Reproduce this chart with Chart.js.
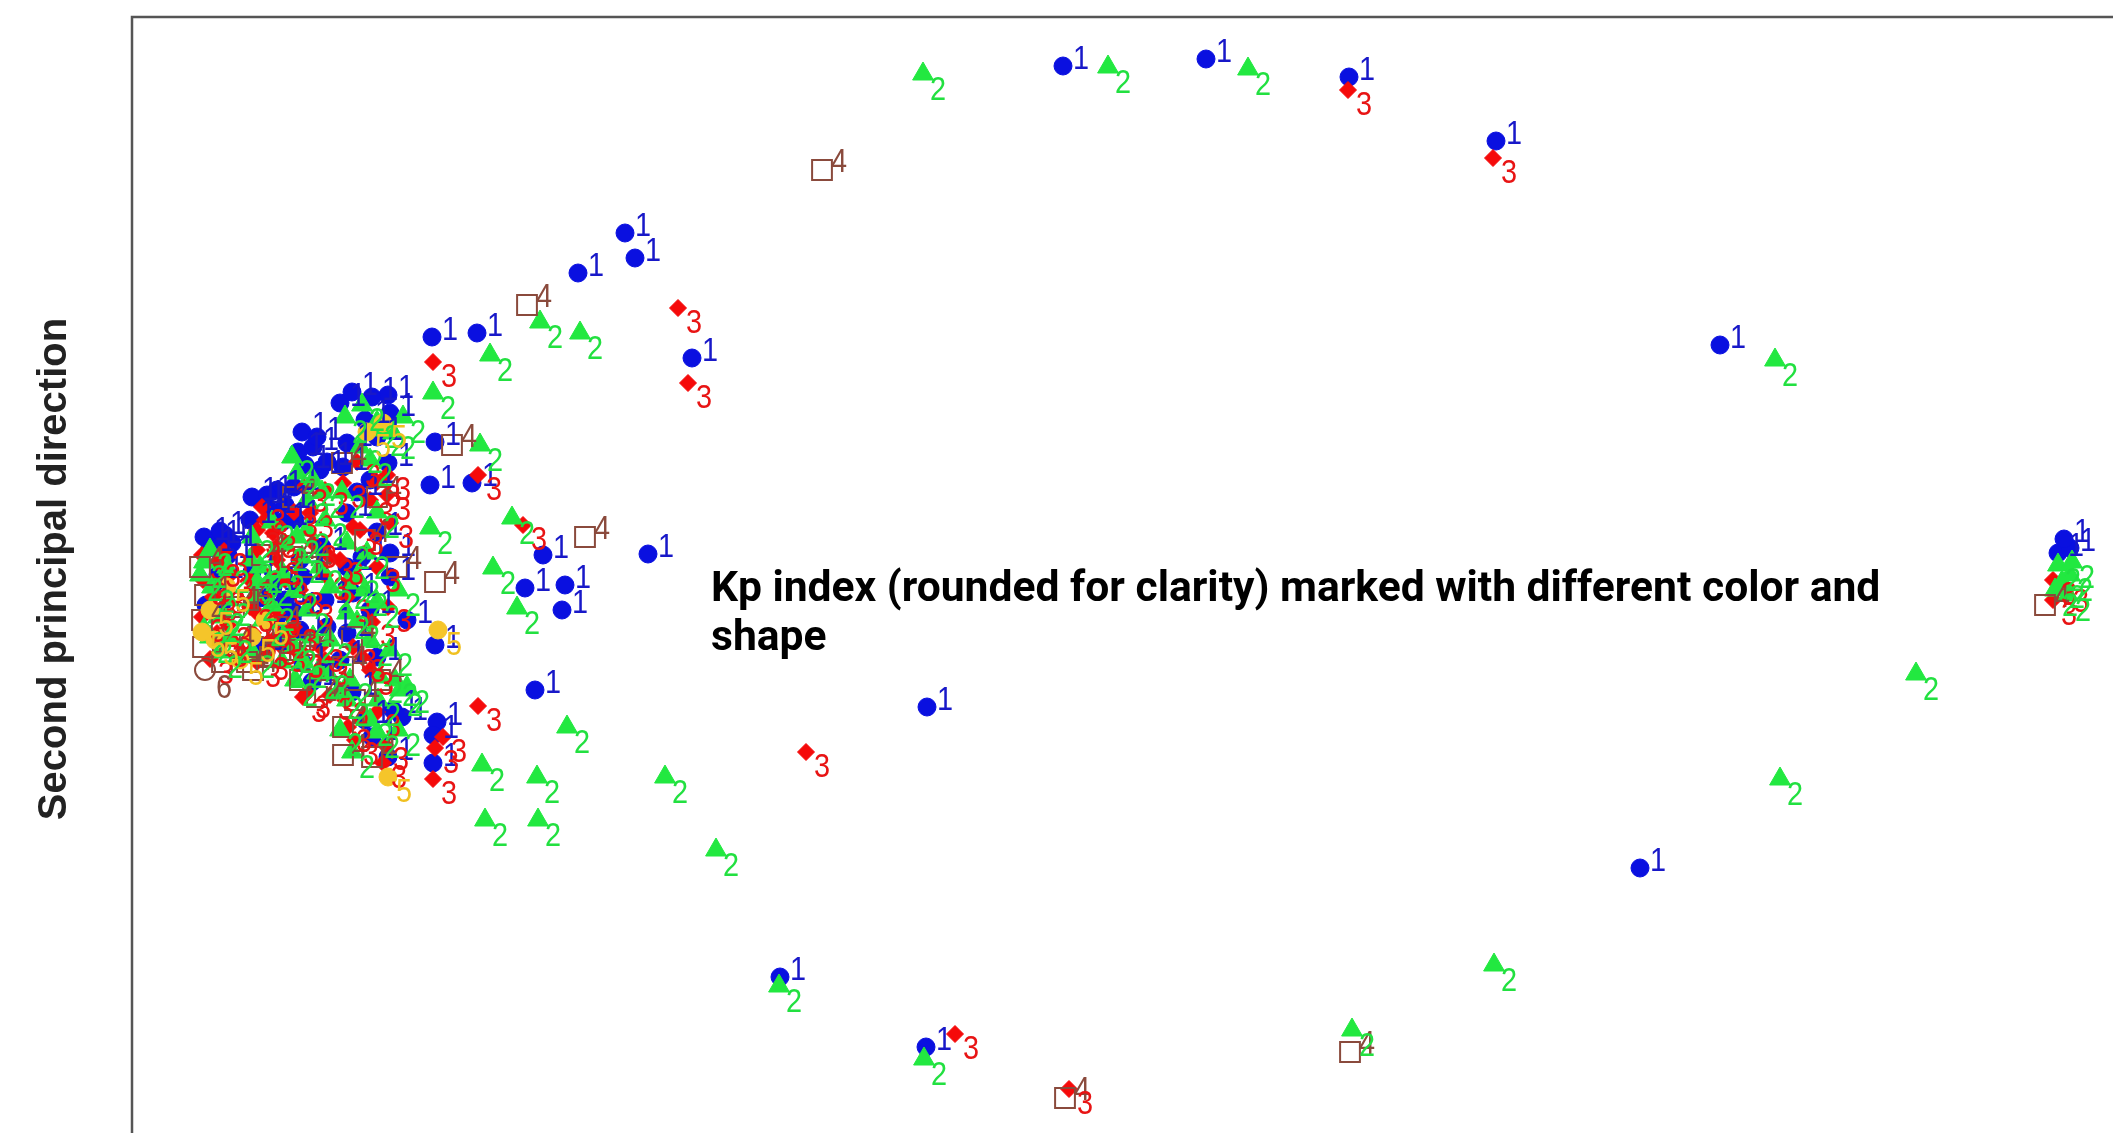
<!DOCTYPE html>
<html>
<head>
<meta charset="utf-8">
<script src="https://cdn.jsdelivr.net/npm/chart.js@4"></script>
<style>
    html, body { margin: 0; padding: 0; background: #fff; overflow: hidden; }
    #wrap { position: absolute; left: 0; top: 0; }
</style>
</head>
<body>
<div id="wrap"><canvas id="chartCanvas" width="2250" height="1250"></canvas></div>
<script>
// points per rounded Kp value: [first principal direction, second principal direction]
var kp1Points = [
    [9.31, 5.51], [10.74, 5.58], [12.17, 5.40], [13.64, 4.76], [15.88, 2.72], [15.08, -2.51], [7.94, -4.30], [6.48, -3.60], [7.95, -0.90], [5.16, 0.63],
    [4.93, 3.84], [5.03, 3.59], [4.46, 3.44], [3.00, 2.80], [3.45, 2.84], [5.60, 2.59], [2.56, 2.22], [2.58, 2.04], [3.03, 1.75], [2.98, 1.32], [3.40, 1.34],
    [4.11, 0.62], [3.93, 0.29], [4.33, 0.32], [4.30, 0.07], [2.75, -0.03], [3.03, -0.28], [4.03, -0.73], [2.58, 0.64], [2.58, 0.40],
    [2.61, -0.93], [2.70, -1.00], [3.05, -1.05], [3.01, -1.18], [2.56, -1.40], [3.01, -1.46],
    [19.26, 0.64], [19.38, 0.69], [19.32, 0.78],
    [0.83, 0.77], [0.93, 0.82], [0.78, 0.69], [0.96, 0.62], [0.72, 0.80], [0.88, 0.86], [1.00, 0.74], [0.86, 0.42], [0.74, 0.12],
    [1.28, 1.17], [1.45, 1.27], [1.38, 1.07], [1.28, 0.19], [1.41, 0.30], [1.53, 1.12], [1.18, 0.97], [1.53, 0.17],
    [1.20, 1.20], [1.35, 1.22], [1.50, 0.95], [1.20, 0.45], [1.45, 0.00], [1.30, -0.30],
    [1.66, 1.65], [1.81, 1.70], [1.73, 1.52], [1.68, 0.57], [1.71, 0.40], [1.68, -0.13], [1.71, -0.46], [1.88, 1.47], [1.93, 0.17], [1.63, 0.97],
    [1.70, 1.85], [1.85, 1.80], [1.95, 1.55], [1.62, 1.30], [1.90, 0.70], [1.62, 0.05], [1.95, -0.10], [1.80, -0.65],
    [2.08, 2.14], [2.15, 1.74], [2.11, 1.50], [2.15, 1.04], [2.15, 0.50], [2.21, 0.24], [2.15, -0.16], [2.08, -0.43], [2.33, 1.97], [2.38, 1.37],
    [2.38, 0.07], [2.33, -1.03], [2.56, 1.54],
    [2.20, 2.25], [2.40, 2.20], [2.45, 1.80], [2.25, 1.25], [2.45, 0.85], [2.30, 0.60], [2.45, -0.40], [2.20, -0.75], [2.40, -1.20]
];
var kp2Points = [
    [7.91, 5.43], [9.76, 5.50], [11.16, 5.48], [16.43, 2.57], [17.84, -0.57], [16.48, -1.62], [13.62, -3.48], [12.20, -4.13], [7.92, -4.42], [6.47, -3.69], [5.84, -2.33],
    [4.08, 2.95], [4.48, 2.84], [3.58, 2.62], [3.01, 2.24], [3.48, 1.72], [2.98, 0.89], [3.80, 0.99], [3.61, 0.49], [3.85, 0.09], [4.35, -1.10],
    [2.66, -1.13], [3.50, -1.48], [4.05, -1.60], [5.33, -1.60], [3.53, -2.03], [4.06, -2.03],
    [19.26, 0.52], [19.38, 0.42], [19.23, 0.27], [19.36, 0.22], [19.30, 0.35], [19.40, 0.55],
    [0.78, 0.67], [0.80, 0.30], [0.78, -0.20], [0.90, 0.07], [0.96, 0.17], [0.68, 0.42],
    [0.72, 0.55], [0.95, 0.50], [0.86, 0.00], [0.72, -0.12], [0.98, -0.20], [0.88, -0.35],
    [1.28, 0.50], [1.38, 0.37], [1.31, -0.03], [1.18, 0.57], [1.53, 0.72], [1.23, 0.22], [1.53, -0.18],
    [1.40, 0.95], [1.20, 0.80], [1.50, 0.45], [1.25, 0.35], [1.40, 0.12], [1.20, -0.35], [1.50, -0.45],
    [1.65, 1.44], [1.81, 1.37], [1.75, 1.17], [1.75, 0.87], [1.65, 0.80], [1.88, 0.50], [1.75, 0.07], [1.81, -0.20], [1.85, -0.56], [1.93, 0.97],
    [1.63, 0.27], [1.98, -0.23], [1.63, -0.63],
    [1.60, 1.60], [1.90, 1.25], [1.70, 0.60], [1.98, 0.30], [1.62, -0.30], [1.95, -0.55], [1.72, -0.45],
    [2.13, 2.00], [2.28, 1.70], [2.15, 0.74], [2.35, 0.64], [2.15, 0.34], [2.15, 0.04], [2.08, -0.76], [2.18, -0.63], [2.38, 1.57], [2.33, 0.27],
    [2.38, -0.23], [2.08, -1.13],
    [2.30, 2.12], [2.45, 1.95], [2.10, 1.25], [2.45, 1.05], [2.25, 0.40], [2.45, 0.15], [2.25, -0.05], [2.45, -1.15], [2.20, -1.35],
    [2.61, 1.84], [2.66, 0.27], [2.63, -0.63], [2.68, -0.73], [2.58, -0.33], [2.46, -0.83], [2.38, -1.03], [2.15, -0.83], [2.48, -0.60], [2.75, -0.70],
    [2.71, 2.00], [2.51, 1.87]
];
var kp3Points = [
    [12.16, 5.27], [13.61, 4.59], [8.23, -4.17], [9.37, -4.72], [6.74, -1.35], [5.46, 3.09], [5.56, 2.34], [3.01, 2.55], [3.46, 1.42], [3.91, 0.92],
    [2.55, 1.42], [2.55, 1.22], [2.58, 0.94], [2.56, 0.10], [3.46, -0.89], [3.11, -1.20], [3.03, -1.31], [2.53, -1.28], [2.51, -1.46], [3.01, -1.62], [2.16, -1.10],
    [19.21, 0.37], [19.21, 0.17], [19.33, 0.30],
    [0.85, 0.55], [0.81, 0.20], [0.85, -0.16], [0.98, 0.42], [0.71, 0.37], [0.96, -0.08],
    [0.92, 0.66], [0.70, 0.62], [0.90, 0.28], [0.70, 0.00], [0.92, -0.25], [0.78, -0.42],
    [1.25, 0.87], [1.41, 0.84], [1.25, 0.67], [1.45, 0.57], [1.25, 0.04], [1.45, 0.04], [1.21, -0.16], [1.41, -0.23], [1.33, 0.97], [1.18, 0.37],
    [1.53, 0.37], [1.33, -0.38],
    [1.30, 1.10], [1.45, 0.70], [1.18, 0.10], [1.35, -0.05], [1.50, -0.30], [1.25, -0.45],
    [1.78, 1.04], [1.81, 0.74], [1.68, -0.36], [1.75, -0.76], [1.68, 0.27], [1.71, -0.80], [1.93, 1.27], [1.93, 0.42], [1.93, -0.43],
    [1.72, 1.30], [1.62, 1.05], [1.98, 0.60], [1.78, 0.15], [1.62, -0.10], [1.88, -0.30], [1.98, -0.78],
    [2.11, 1.34], [2.21, 0.90], [2.21, -0.30], [2.13, -0.83], [2.45, 0.50], [2.28, 0.87], [2.38, 1.17], [2.08, 0.57], [2.38, -0.53], [2.23, -1.23],
    [2.25, 1.55], [2.45, 1.35], [2.15, 0.20], [2.40, -0.05], [2.30, -0.40], [2.45, -0.95]
];
var kp4Points = [
    [6.90, 4.47], [12.18, -4.35], [9.33, -4.81], [3.95, 3.12], [3.20, 1.72], [4.53, 0.80], [3.03, 0.35], [2.11, -1.10], [2.11, -1.38],
    [19.13, 0.12],
    [0.70, -0.03], [0.71, -0.30], [1.21, -0.30], [1.21, -0.53], [1.38, -0.40], [1.61, 1.20], [2.10, 1.54], [2.11, -0.50], [1.68, -0.63],
    [2.65, 0.50], [2.48, -0.63], [0.73, 0.22], [0.98, -0.28], [1.58, -0.33], [1.16, 0.17], [1.78, -0.28], [1.93, -0.73], [2.33, 0.77], [2.23, -0.83],
    [0.68, 0.50], [0.90, -0.45], [1.02, 0.10], [1.30, 0.62], [1.45, -0.10], [1.15, -0.45], [1.75, 0.50], [1.60, 0.60], [1.85, -0.80],
    [2.45, 1.20], [2.20, -0.20], [2.40, -1.40]
];
var kp5Points = [
    [3.06, -0.13], [2.56, -1.60], [2.51, 1.94], [0.78, 0.07], [0.83, -0.23], [1.08, -0.43], [1.33, -0.03],
    [0.70, -0.15], [0.95, 0.30], [1.20, -0.20], [2.35, 1.85]
];
var kp6Points = [[0.73, -0.53]];

var kpLabels = ['1', '2', '3', '4', '5', '6'];
var yTitle = 'Second principal direction';
var noteLines = ['Kp index (rounded for clarity) marked with different color and', 'shape'];

function toXY(list) {
    return list.map(function (p) { return { x: p[0], y: p[1] }; });
}

// marker look per Kp, and where its digit sits relative to the marker
var looks = [
    { pts: kp1Points, style: 'circle',   r: 9,   fill: '#0a10e0', line: '#0a10e0', lw: 1, text: '#1818c8', dx: 10, dy: 3,  order: 5 },
    { pts: kp2Points, style: 'triangle', r: 12,  fill: '#22e840', line: '#22e840', lw: 1, text: '#22e040', dx: 7,  dy: 26, order: 3 },
    { pts: kp3Points, style: 'rectRot',  r: 8.5, fill: '#f50a0a', line: '#f50a0a', lw: 1, text: '#e81414', dx: 8,  dy: 25, order: 4 },
    { pts: kp4Points, style: 'rect',     r: 14,  fill: 'rgba(0,0,0,0)', line: '#8a4a3c', lw: 2, text: '#8a4a3c', dx: 9, dy: 2, order: 2 },
    { pts: kp5Points, style: 'circle',   r: 9,   fill: '#f5c52a', line: '#f5c52a', lw: 1, text: '#f0c020', dx: 8,  dy: 25, order: 1 },
    { pts: kp6Points, style: 'circle',   r: 10,  fill: 'rgba(0,0,0,0)', line: '#8a4a3c', lw: 2, text: '#8a4a3c', dx: 11, dy: 28, order: 0 }
];

var datasets = looks.map(function (l, i) {
    return {
        label: 'Kp ' + kpLabels[i],
        data: toXY(l.pts),
        pointStyle: l.style,
        pointRadius: l.r,
        pointHoverRadius: l.r,
        backgroundColor: l.fill,
        borderColor: l.line,
        borderWidth: l.lw,
        showLine: false,
        order: l.order
    };
});

var kpText = {
    id: 'kpText',
    afterDatasetsDraw: function (chart) {
        var ctx = chart.ctx;
        ctx.save();
        ctx.font = '34px "Liberation Sans", Arial, sans-serif';
        ctx.textAlign = 'left';
        ctx.textBaseline = 'alphabetic';
        [0, 3, 2, 1, 4, 5].forEach(function (i) {
            var meta = chart.getDatasetMeta(i);
            ctx.fillStyle = looks[i].text;
            meta.data.forEach(function (pt) {
                ctx.save();
                ctx.translate(pt.x + looks[i].dx, pt.y + looks[i].dy);
                ctx.scale(0.85, 1);
                ctx.fillText(kpLabels[i], 0, 0);
                ctx.restore();
            });
        });
        ctx.restore();
    }
};

var frameAndText = {
    id: 'frameAndText',
    beforeDatasetsDraw: function (chart) {
        var ctx = chart.ctx, a = chart.chartArea;
        ctx.save();
        ctx.strokeStyle = '#555';
        ctx.lineWidth = 2.5;
        ctx.strokeRect(a.left, a.top, a.right - a.left, a.bottom - a.top);
        ctx.restore();
    },
    afterDraw: function (chart) {
        var ctx = chart.ctx;
        ctx.save();
        ctx.fillStyle = '#000';
        ctx.font = 'bold 42.6px Roboto, sans-serif';
        ctx.textAlign = 'left';
        ctx.fillText(noteLines[0], 711, 601);
        ctx.fillText(noteLines[1], 711, 650);
        ctx.translate(66, 569);
        ctx.rotate(-Math.PI / 2);
        ctx.textAlign = 'center';
        ctx.fillStyle = '#222';
        ctx.font = 'bold 40px "Liberation Sans", Arial, sans-serif';
        ctx.fillText(yTitle, 0, 0);
        ctx.restore();
    }
};

var ctx = document.getElementById('chartCanvas').getContext('2d');
var myChart = new Chart(ctx, {
    type: 'scatter',
    data: { datasets: datasets },
    options: {
        responsive: false,
        animation: false,
        layout: { padding: { left: 132, top: 17, right: 18, bottom: 33 } },
        scales: {
            x: { display: false, min: 0, max: 21 },
            y: { display: false, min: -6, max: 6 }
        },
        plugins: {
            legend: { display: false },
            tooltip: { enabled: false }
        }
    },
    plugins: [frameAndText, kpText]
});
</script>
</body>
</html>
